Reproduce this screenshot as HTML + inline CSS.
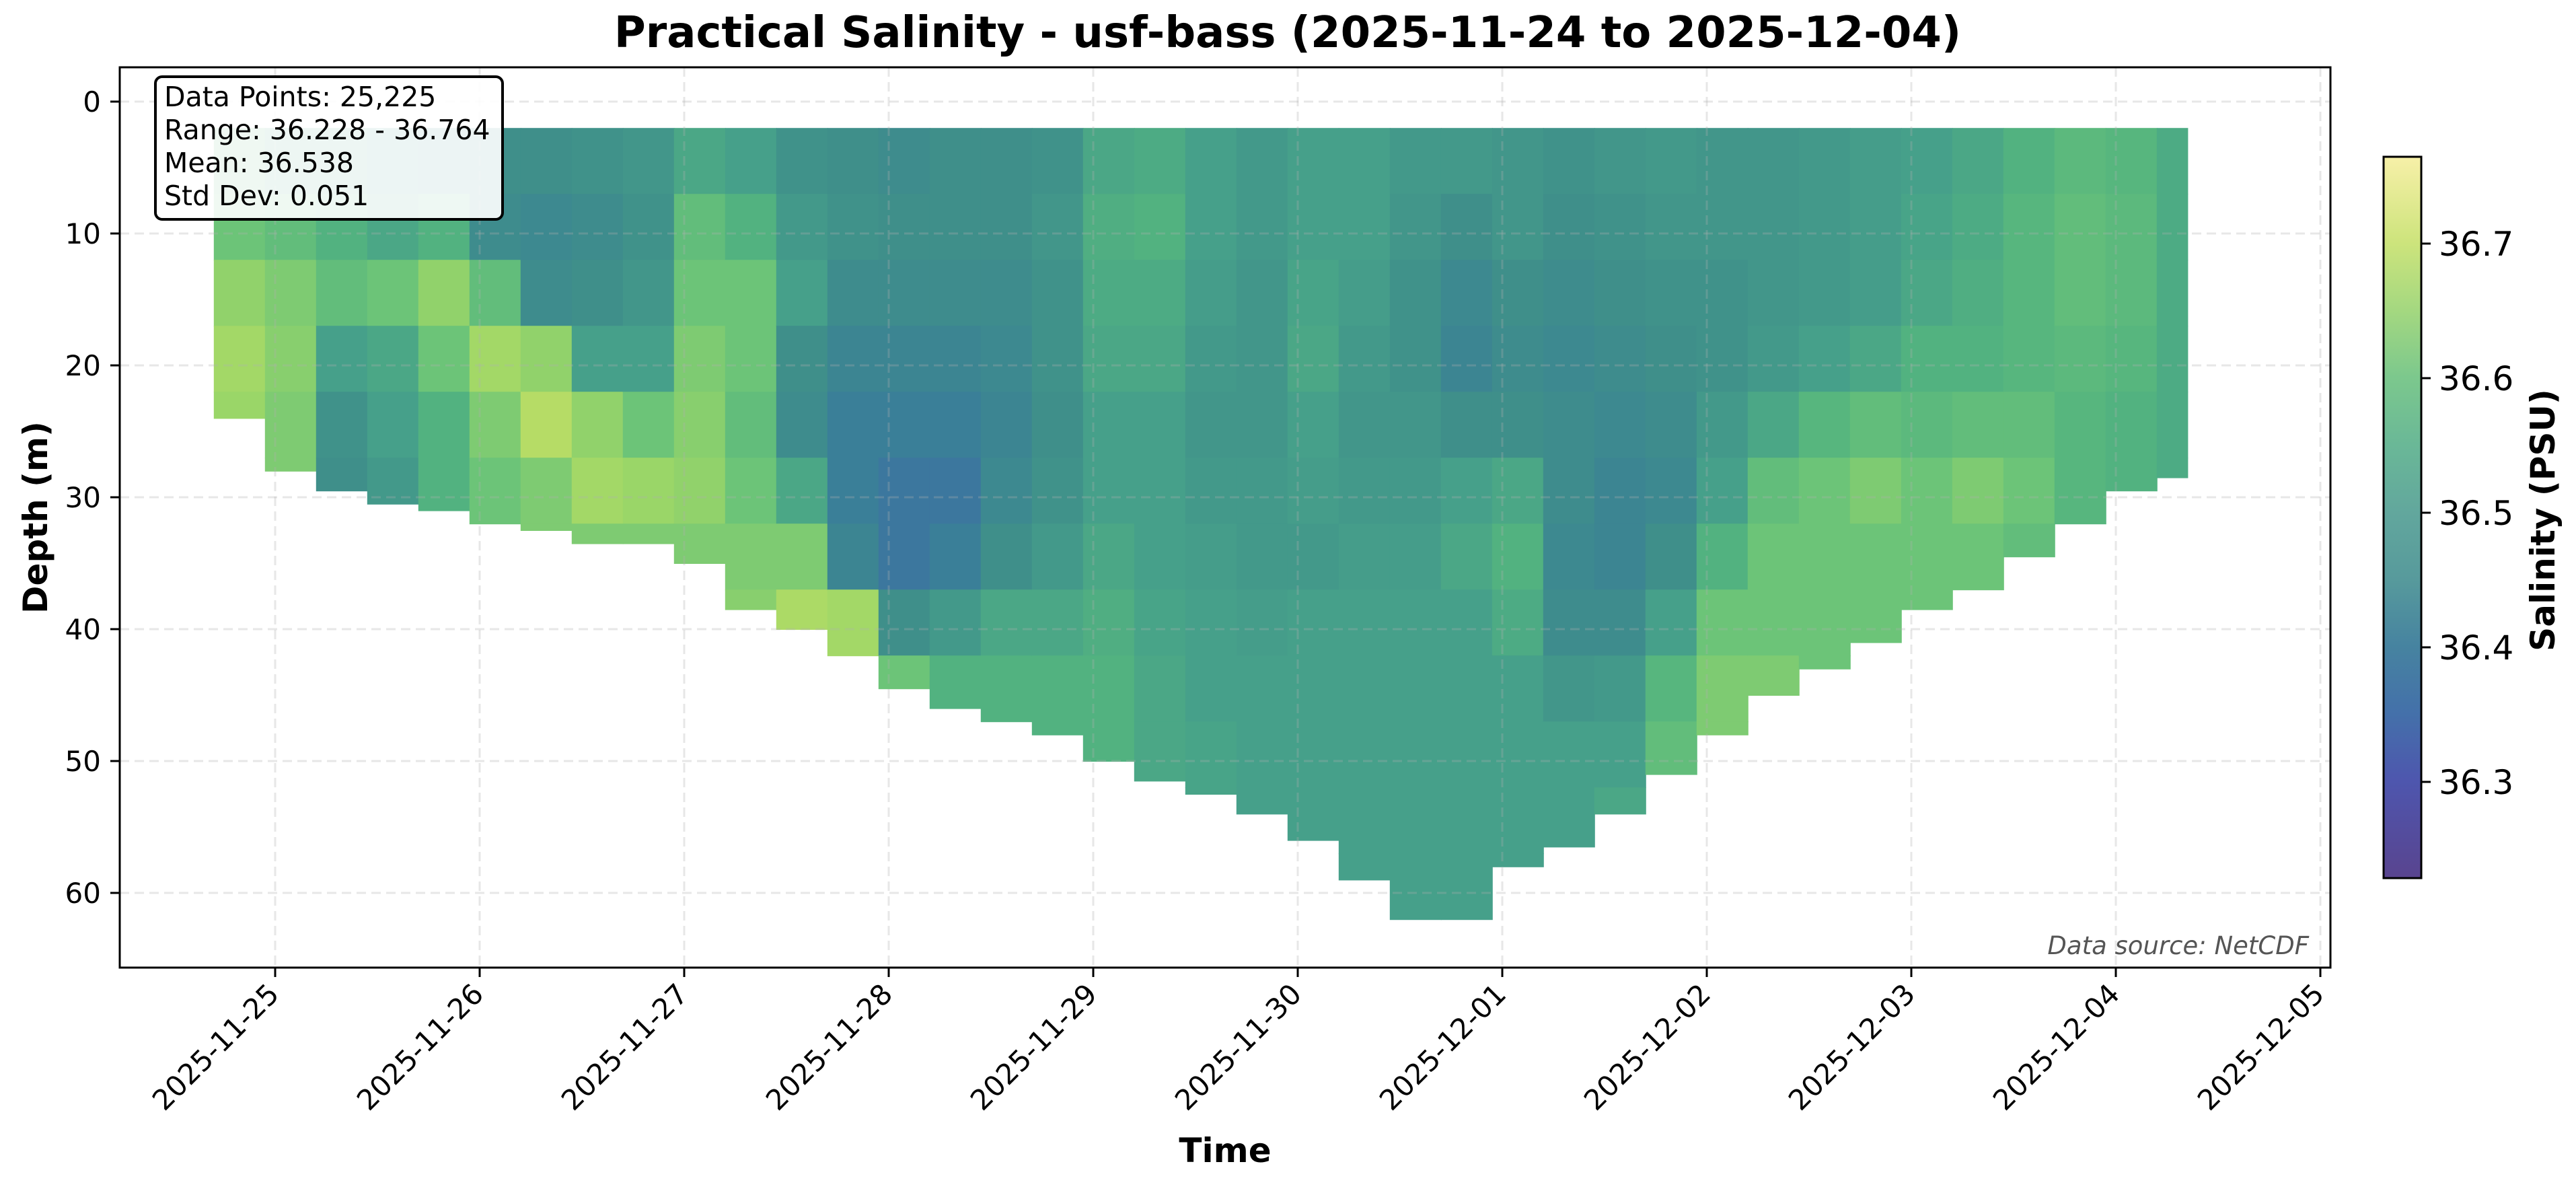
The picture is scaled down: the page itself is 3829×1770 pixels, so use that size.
<!DOCTYPE html>
<html><head><meta charset="utf-8"><style>
html,body{margin:0;padding:0;background:#fff}
svg text{font-family:"DejaVu Sans","Liberation Sans",sans-serif}
</style></head><body>
<svg id="chart" xmlns="http://www.w3.org/2000/svg" width="3829" height="1765" viewBox="0 0 3829 1765">
<defs>
<linearGradient id="cbgrad" x1="0" y1="1" x2="0" y2="0">
<stop offset="0" stop-color="#59448f"/><stop offset="0.134" stop-color="#4e56ae"/>
<stop offset="0.227" stop-color="#4470aa"/><stop offset="0.321" stop-color="#4683a0"/>
<stop offset="0.414" stop-color="#579a9c"/><stop offset="0.507" stop-color="#62a79d"/>
<stop offset="0.601" stop-color="#6ab897"/><stop offset="0.694" stop-color="#7cc88d"/>
<stop offset="0.787" stop-color="#a4d880"/><stop offset="0.881" stop-color="#cde47c"/>
<stop offset="1" stop-color="#f7f0a8"/>
</linearGradient>
<clipPath id="plotclip"><rect x="178" y="100" width="3286" height="1338"/></clipPath>
</defs>
<rect x="0" y="0" width="3829" height="1765" fill="#fff"/>
<g id="data" clip-path="url(#plotclip)"></g>
<g id="grid"></g>
<rect x="178" y="100" width="3286" height="1338" fill="none" stroke="#000" stroke-width="3"/>
<g id="axes"></g>
<text x="1914" y="70" text-anchor="middle" font-size="64" font-weight="bold">Practical Salinity - usf-bass (2025-11-24 to 2025-12-04)</text>
<text x="1821" y="1727" text-anchor="middle" font-size="50" font-weight="bold">Time</text>
<text transform="translate(70,769) rotate(-90)" text-anchor="middle" font-size="50" font-weight="bold">Depth (m)</text>
<g>
<rect x="231" y="114" width="516" height="212" rx="10" fill="#fff" fill-opacity="0.9" stroke="#000" stroke-width="4"/>
<text x="244" y="158" font-size="41">Data Points: 25,225</text>
<text x="244" y="207" font-size="41">Range: 36.228 - 36.764</text>
<text x="244" y="256" font-size="41">Mean: 36.538</text>
<text x="244" y="305" font-size="41">Std Dev: 0.051</text>
</g>
<text x="3432" y="1418" text-anchor="end" font-size="37" font-style="italic" fill="#555">Data source: NetCDF</text>
<g>
<rect x="3543" y="233" width="56" height="1072" fill="url(#cbgrad)" stroke="#000" stroke-width="3"/>
<g id="cbticks"></g>
<text transform="translate(3797,773) rotate(-90)" text-anchor="middle" font-size="50" font-weight="bold">Salinity (PSU)</text>
</g>
</svg>
<script>
// day offsets relative to 2025-11-25 00:00
const colStarts = [-0.30,-0.05,0.20,0.45,0.70,0.95,1.20,1.45,1.70,1.95,2.20,2.45,2.70,2.95,3.20,3.45,3.70,3.95,4.20,4.45,4.70,4.95,5.20,5.45,5.70,5.95,6.20,6.45,6.70,6.95,7.20,7.45,7.70,7.95,8.20,8.45,8.70,8.95,9.20];
const bottomDepths = [24,28,29.5,30.5,31,32,32.5,33.5,33.5,35,38.5,40,42,44.5,46,47,48,50,51.5,52.5,54,56,59,62,62,58,56.5,54,51,48,45,43,41,38.5,37,34.5,32,29.5,28.5];
const depthBinTops = [2,7,12,17,22,27,32,37,42,47,52,57,62];
const salinity = [
[36.57,36.60,36.64,36.66,36.65,36.64],
[36.52,36.58,36.62,36.63,36.62,36.62,36.62],
[36.52,36.55,36.58,36.50,36.46,36.45,36.55],
[36.48,36.52,36.60,36.52,36.50,36.48,36.55],
[36.46,36.55,36.64,36.60,36.55,36.55,36.57],
[36.45,36.44,36.58,36.66,36.62,36.60,36.60],
[36.45,36.43,36.44,36.64,36.68,36.62,36.62],
[36.46,36.44,36.45,36.50,36.64,36.66,36.62],
[36.47,36.46,36.47,36.50,36.60,36.65,36.62],
[36.52,36.58,36.60,36.62,36.63,36.64,36.62],
[36.50,36.55,36.60,36.60,36.58,36.60,36.62,36.63,36.62],
[36.46,36.48,36.50,36.45,36.44,36.52,36.62,36.67,36.66],
[36.45,36.46,36.44,36.42,36.40,36.40,36.42,36.66,36.68,36.62],
[36.44,36.45,36.44,36.42,36.40,36.38,36.38,36.45,36.60,36.58],
[36.45,36.45,36.44,36.42,36.40,36.38,36.40,36.48,36.55,36.54],
[36.45,36.45,36.44,36.43,36.42,36.43,36.45,36.52,36.55,36.55],
[36.46,36.47,36.46,36.46,36.45,36.46,36.48,36.52,36.55,36.55,36.55],
[36.52,36.54,36.53,36.52,36.50,36.50,36.52,36.54,36.55,36.55,36.53],
[36.53,36.55,36.53,36.52,36.50,36.50,36.50,36.51,36.52,36.52,36.52],
[36.50,36.50,36.49,36.48,36.47,36.48,36.49,36.50,36.50,36.51,36.51,36.51],
[36.48,36.48,36.47,36.47,36.47,36.48,36.48,36.49,36.50,36.50,36.50,36.50],
[36.50,36.50,36.51,36.52,36.50,36.49,36.48,36.50,36.50,36.50,36.50,36.50],
[36.50,36.50,36.49,36.48,36.47,36.48,36.49,36.50,36.50,36.50,36.50,36.50,36.50],
[36.48,36.47,36.46,36.46,36.47,36.48,36.49,36.50,36.50,36.50,36.50,36.50,36.50],
[36.48,36.45,36.43,36.42,36.45,36.50,36.52,36.50,36.50,36.50,36.50,36.50,36.50],
[36.47,36.47,36.45,36.44,36.45,36.52,36.55,36.53,36.50,36.50,36.50,36.50],
[36.46,36.45,36.44,36.43,36.44,36.44,36.43,36.44,36.47,36.50,36.50,36.50],
[36.47,36.46,36.45,36.44,36.43,36.42,36.42,36.44,36.48,36.50,36.52],
[36.48,36.47,36.46,36.45,36.44,36.43,36.45,36.50,36.56,36.58],
[36.47,36.47,36.46,36.46,36.48,36.50,36.55,36.60,36.62],
[36.47,36.47,36.47,36.48,36.52,36.58,36.60,36.60,36.62],
[36.48,36.48,36.48,36.50,36.56,36.60,36.60,36.60],
[36.49,36.49,36.49,36.52,36.58,36.62,36.60,36.60],
[36.50,36.51,36.52,36.55,36.57,36.60,36.60,36.60],
[36.52,36.53,36.54,36.55,36.58,36.62,36.60],
[36.55,36.56,36.56,36.56,36.58,36.60,36.58],
[36.57,36.58,36.58,36.57,36.56,36.56],
[36.56,36.57,36.57,36.56,36.55,36.55],
[36.53,36.53,36.53,36.53,36.53,36.53]
];
const dataEnd = 9.35;
const xTickLabels = ["2025-11-25","2025-11-26","2025-11-27","2025-11-28","2025-11-29","2025-11-30","2025-12-01","2025-12-02","2025-12-03","2025-12-04","2025-12-05"];
const xTickDays = [0,1,2,3,4,5,6,7,8,9,10];
const yTicks = [0,10,20,30,40,50,60];
const cbTicks = [36.3,36.4,36.5,36.6,36.7];

const NS = "http://www.w3.org/2000/svg";
const X = d => 409 + d * 304;
const Y = m => 151 + m * 19.6;
const CB = v => 1162 - (v - 36.3) * 2000;
const stops = [[36.228,[0x59,0x44,0x8f]],[36.30,[0x4e,0x56,0xae]],[36.35,[0x40,0x6c,0xa6]],[36.40,[0x3a,0x7f,0x98]],[36.45,[0x3f,0x8f,0x8a]],[36.50,[0x46,0xa0,0x8a]],[36.55,[0x52,0xb2,0x80]],[36.60,[0x6c,0xc4,0x78]],[36.65,[0x9a,0xd6,0x68]],[36.70,[0xc8,0xe0,0x64]],[36.764,[0xf4,0xec,0x98]]];
function color(v){
  if (v <= stops[0][0]) return "rgb("+stops[0][1].join(",")+")";
  for (let i=1;i<stops.length;i++){
    if (v <= stops[i][0]){
      const a=stops[i-1], b=stops[i], f=(v-a[0])/(b[0]-a[0]);
      return "rgb("+a[1].map((c,k)=>Math.round(c+(b[1][k]-c)*f)).join(",")+")";
    }
  }
  return "rgb("+stops[stops.length-1][1].join(",")+")";
}
function mk(tag, attrs, parent){
  const e=document.createElementNS(NS,tag);
  for (const k in attrs) e.setAttribute(k, attrs[k]);
  parent.appendChild(e); return e;
}
const gData=document.getElementById("data");
colStarts.forEach((t0,i)=>{
  const t1=Math.min(t0+0.25,dataEnd);
  const col=salinity[i];
  depthBinTops.forEach((d0,j)=>{
    if (d0 >= bottomDepths[i]) return;
    const v = col[Math.min(j,col.length-1)];
    const d1 = Math.min(d0+5, bottomDepths[i]);
    const r = mk("rect",{x:X(t0),y:Y(d0),width:X(t1)-X(t0)+1,height:Y(d1)-Y(d0)+1,fill:color(v)},gData);
    
    
  });
});
const gGrid=document.getElementById("grid");
xTickDays.forEach(d=>{
  const l=mk("line",{x1:X(d),x2:X(d),y1:100,y2:1438,stroke:"#b0b0b0","stroke-opacity":"0.3","stroke-width":"3","stroke-dasharray":"14,8"},gGrid);
  
  
});
yTicks.forEach(m=>{
  const l=mk("line",{x1:178,x2:3464,y1:Y(m),y2:Y(m),stroke:"#b0b0b0","stroke-opacity":"0.3","stroke-width":"3","stroke-dasharray":"14,8"},gGrid);
  
  
});
const gAx=document.getElementById("axes");
xTickDays.forEach((d,i)=>{
  const t=mk("line",{x1:X(d),x2:X(d),y1:1438,y2:1452,stroke:"#000","stroke-width":"3"},gAx);
  
  
  const tx=mk("text",{transform:"translate("+(X(d)+8)+",1480) rotate(-45)","text-anchor":"end","font-size":"42"},gAx);
  tx.textContent=xTickLabels[i];
  
  
});
yTicks.forEach(m=>{
  const t=mk("line",{x1:164,x2:178,y1:Y(m),y2:Y(m),stroke:"#000","stroke-width":"3"},gAx);
  
  
  const tx=mk("text",{x:150,y:Y(m)+15,"text-anchor":"end","font-size":"42"},gAx);
  tx.textContent=String(m);
  
  
});
const gCb=document.getElementById("cbticks");
cbTicks.forEach(v=>{
  const t=mk("line",{x1:3599,x2:3613,y1:CB(v),y2:CB(v),stroke:"#000","stroke-width":"3"},gCb);
  
  
  const tx=mk("text",{x:3625,y:CB(v)+18,"font-size":"50"},gCb);
  tx.textContent=v.toFixed(1);
  
  
});
</script>
</body></html>
